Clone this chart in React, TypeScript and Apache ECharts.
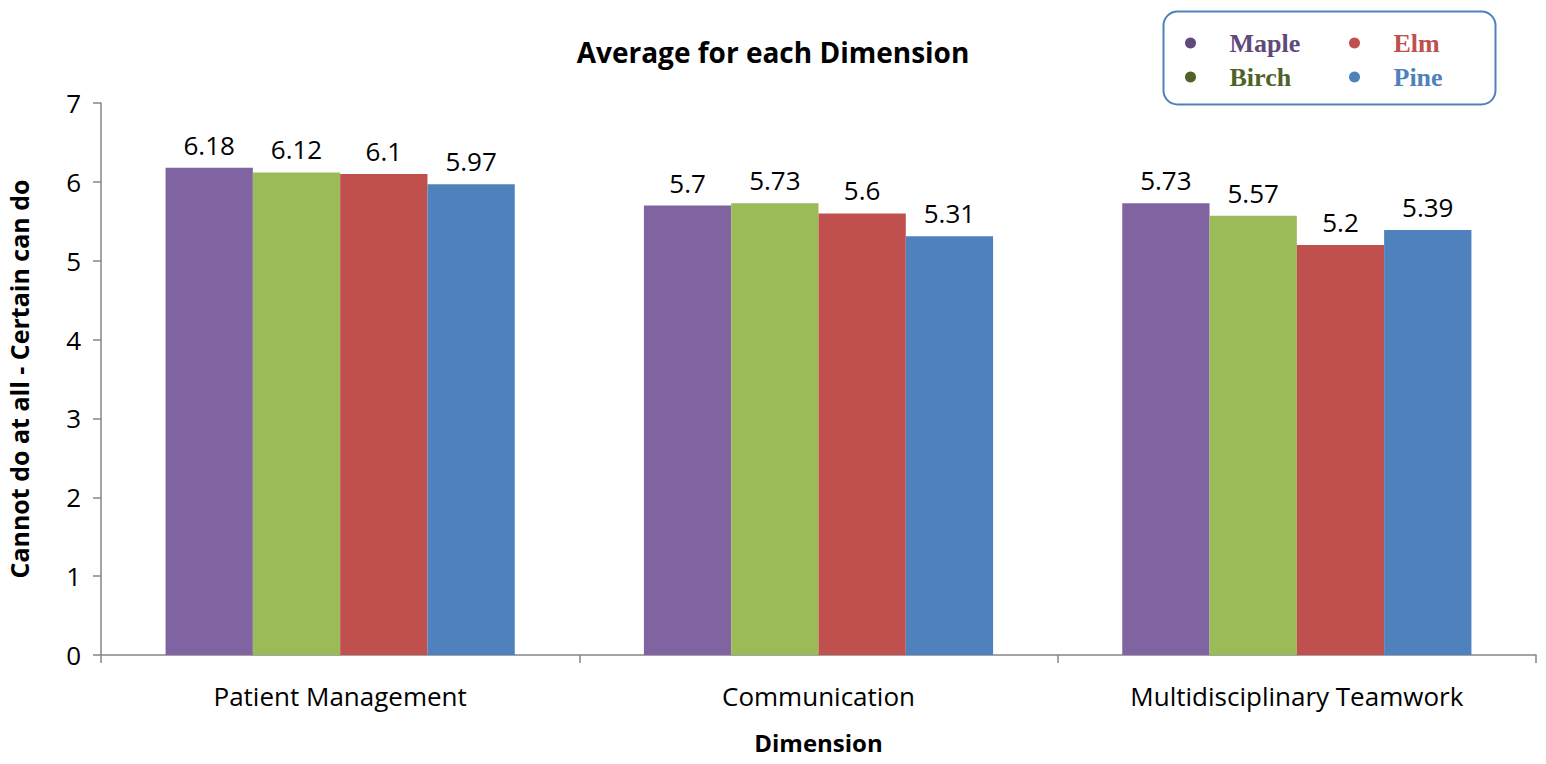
import React, { useEffect, useRef } from "react";
import * as echarts from "echarts";

const categories = ["Patient Management", "Communication", "Multidisciplinary Teamwork"];
const maple = [6.18, 5.7, 5.73];
const birch = [6.12, 5.73, 5.57];
const elm = [6.1, 5.6, 5.2];
const pine = [5.97, 5.31, 5.39];
const yTicks = [0, 7, 1];

const FONT = "'Open Sans', sans-serif";

const seriesDefs = [
  { name: "Maple", data: maple, color: "#8064A2", text: "#604A7B" },
  { name: "Birch", data: birch, color: "#9BBB59", text: "#4F6228" },
  { name: "Elm", data: elm, color: "#C0504D", text: "#C0504D" },
  { name: "Pine", data: pine, color: "#4F81BD", text: "#4F81BD" },
];

export default function App() {
  const ref = useRef<HTMLDivElement>(null);

  useEffect(() => {
    if (!ref.current) return;
    const chart = echarts.init(ref.current, undefined, { renderer: "svg" });
    const legendColumn = (names: string[], left: number) => ({
      orient: "vertical",
      left,
      top: 25,
      itemGap: 8,
      itemWidth: 68,
      itemHeight: 11,
      icon: "circle",
      selectedMode: false,
      data: names.map((n) => {
        const s = seriesDefs.find((d) => d.name === n)!;
        return {
          name: n,
          itemStyle: { color: s.text },
          textStyle: {
            color: s.text,
            fontFamily: "'Liberation Serif', serif",
            fontWeight: "bold",
            fontSize: 26,
          },
        };
      }),
    });
    chart.setOption({
      animation: false,
      backgroundColor: "#ffffff",
      title: {
        text: "Average for each Dimension",
        left: 768,
        textAlign: "center",
        top: 33,
        textStyle: { fontFamily: FONT, fontWeight: "bold", fontSize: 28, color: "#000" },
      },
      legend: [legendColumn(["Maple", "Birch"], 1180), legendColumn(["Elm", "Pine"], 1344)],
      graphic: [
        {
          type: "rect",
          left: 1161,
          top: 9,
          shape: { width: 332, height: 93, r: 14 },
          style: { fill: "none", stroke: "#4F81BD", lineWidth: 2 },
        },
      ],
      grid: {
        left: 101,
        right: 10,
        top: 103,
        bottom: 109,
        containLabel: false,
        outerBoundsMode: "none",
      },
      xAxis: {
        type: "category",
        data: categories,
        name: "Dimension",
        nameLocation: "middle",
        nameGap: 75,
        nameTextStyle: { fontFamily: FONT, fontWeight: "bold", fontSize: 24, color: "#000" },
        axisLine: { lineStyle: { color: "#868686", width: 1.5 } },
        axisTick: { show: true, length: 8, lineStyle: { color: "#868686", width: 1.5 } },
        axisLabel: { fontFamily: FONT, fontSize: 26, color: "#000", margin: 28 },
      },
      yAxis: {
        type: "value",
        min: yTicks[0],
        max: yTicks[1],
        interval: yTicks[2],
        name: "Cannot do at all - Certain can do",
        nameLocation: "middle",
        nameGap: 70,
        nameTextStyle: { fontFamily: FONT, fontWeight: "bold", fontSize: 25, color: "#000" },
        axisLine: { show: true, lineStyle: { color: "#868686", width: 1.5 } },
        axisTick: { show: true, length: 8, lineStyle: { color: "#868686", width: 1.5 } },
        splitLine: { show: false },
        axisLabel: { fontFamily: FONT, fontSize: 26, color: "#000", margin: 20 },
      },
      series: seriesDefs.map((s) => ({
        type: "bar",
        name: s.name,
        data: s.data,
        barGap: "0%",
        barCategoryGap: "27%",
        itemStyle: { color: s.color },
        label: {
          show: true,
          position: "top",
          distance: 10,
          fontFamily: FONT,
          fontSize: 26,
          color: "#000",
        },
      })),
    });
    return () => chart.dispose();
  }, []);

  return <div ref={ref} style={{ width: 1546, height: 764, margin: -8 }} />;
}
